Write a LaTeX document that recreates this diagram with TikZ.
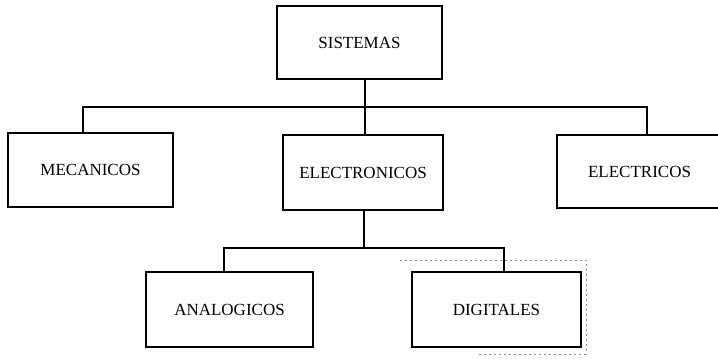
\documentclass[tikz,border=0pt]{standalone}
\usepackage{fontspec}
\setmainfont{Liberation Serif}
\begin{document}
\begin{tikzpicture}[x=1pt,y=-1pt,
  boxnode/.style={draw=black,line width=1.3pt,rectangle,inner sep=0pt,
    font=\fontsize{17}{19}\selectfont},
  link/.style={draw=black,line width=1.3pt},
  scanmark/.style={draw=black!45,line width=0.8pt,dash pattern=on 2pt off 3pt}]
\useasboundingbox (0,0) rectangle (718,363);
\node[boxnode,minimum width=165pt,minimum height=73pt] (sis) at (359.5,42.5) {SISTEMAS};
\node[boxnode,minimum width=165pt,minimum height=74pt] (mec) at (90.5,170) {MECANICOS};
\node[boxnode,minimum width=160pt,minimum height=75pt] (elo) at (363,172.5) {ELECTRONICOS};
\node[boxnode,minimum width=165pt,minimum height=73pt] (ele) at (639.5,171.5) {ELECTRICOS};
\node[boxnode,minimum width=167pt,minimum height=75pt] (ana) at (229.5,309.5) {ANALOGICOS};
\node[boxnode,minimum width=169pt,minimum height=75pt] (dig) at (496.5,309.5) {DIGITALES};
\coordinate (bus) at (365,107);
\coordinate (bus2) at (364,248);
\draw[link] ([xshift=5.5pt]sis.south) -- ([xshift=2pt]elo.north);
\draw[link] ([xshift=-7.5pt]mec.north) |- (bus) -| ([xshift=7.5pt]ele.north);
\draw[link] ([xshift=1pt]elo.south) -- (bus2);
\draw[link] ([xshift=-5.5pt]ana.north) |- (bus2) -| ([xshift=7.5pt]dig.north);
\coordinate (s1) at (400,260);
\coordinate (s2) at (586,260);
\coordinate (s3) at (586,354);
\coordinate (s4) at (478,354);
\draw[scanmark] (s1) -- (s2) -- (s3) -- (s4);
\end{tikzpicture}
\end{document}
